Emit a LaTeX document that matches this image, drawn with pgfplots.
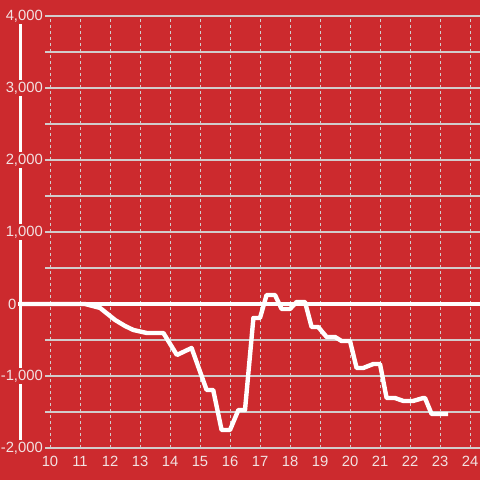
\documentclass[border=0pt]{standalone}
\usepackage{pgfplots}
\pgfplotsset{compat=1.18}
\usepackage{fontspec}
\setmainfont{Liberation Sans}
\definecolor{bg}{RGB}{204,42,46}
\definecolor{gridc}{RGB}{210,204,204}
\definecolor{lab}{RGB}{242,226,226}
\begin{document}
\begin{tikzpicture}
\fill[bg] (0,0) rectangle (480pt,480pt);
\draw[white, line width=3.5pt] (20.5pt,456pt) -- (20.5pt,30pt);
\begin{axis}[
  at={(45pt,32pt)}, anchor=south west,
  scale only axis, width=435pt, height=432pt,
  xmin=9.8333, xmax=24.3333, ymin=-2000, ymax=4000,
  clip=false,
  axis line style={draw=none},
  major tick length=0pt, minor tick length=0pt,
  xtick={10,11,...,24},
  ytick={-2000,-1000,0,1000,2000,3000,4000},
  minor ytick={-1500,-500,500,1500,2500,3500},
  yticklabels={{-2,000},{-1,000},{},{1,000},{2,000},{3,000},{4,000}},
  grid=both,
  y grid style={gridc, line width=1.1pt, solid},
  minor y grid style={gridc, line width=1.1pt, solid},
  x grid style={gridc, line width=0.9pt, dash pattern=on 3pt off 3pt},
  tick label style={font=\fontsize{14.8}{17}\selectfont, text=lab},
  yticklabel style={anchor=east, inner xsep=2pt, inner ysep=1.5pt, fill=bg},
  xticklabel style={anchor=north, inner sep=0pt, yshift=-8pt},
  /pgf/number format/assume math mode=true,
]
\draw[white, line width=3.5pt] (axis cs:8.93,0) -- (axis cs:24.4,0);
\addplot[white, line width=4.4pt, line join=round, no marks] coordinates {
(9,0) (11.17,0) (11.67,-55) (12.17,-222) (12.5,-305) (12.78,-361) (13.23,-403) (13.78,-403)
(14.23,-708) (14.72,-611) (15.22,-1194) (15.44,-1194) (15.72,-1750) (16.0,-1750)
(16.28,-1472) (16.5,-1472) (16.78,-194) (17.0,-194) (17.22,125) (17.5,125)
(17.72,-69) (18.0,-69) (18.22,28) (18.5,28) (18.72,-319) (18.94,-319)
(19.22,-458) (19.5,-458) (19.72,-514) (20.0,-514) (20.22,-889) (20.44,-889)
(20.78,-833) (21.0,-833) (21.22,-1306) (21.5,-1306) (21.78,-1347) (22.1,-1347)
(22.44,-1306) (22.5,-1306) (22.72,-1528) (23.27,-1528)
};
\node[anchor=east, inner sep=0pt, text=lab, font=\fontsize{14.8}{17}\selectfont] at (axis cs:8.883,0) {0};
\end{axis}
\pgfresetboundingbox
\useasboundingbox (0,0) rectangle (480pt,480pt);
\end{tikzpicture}
\end{document}
